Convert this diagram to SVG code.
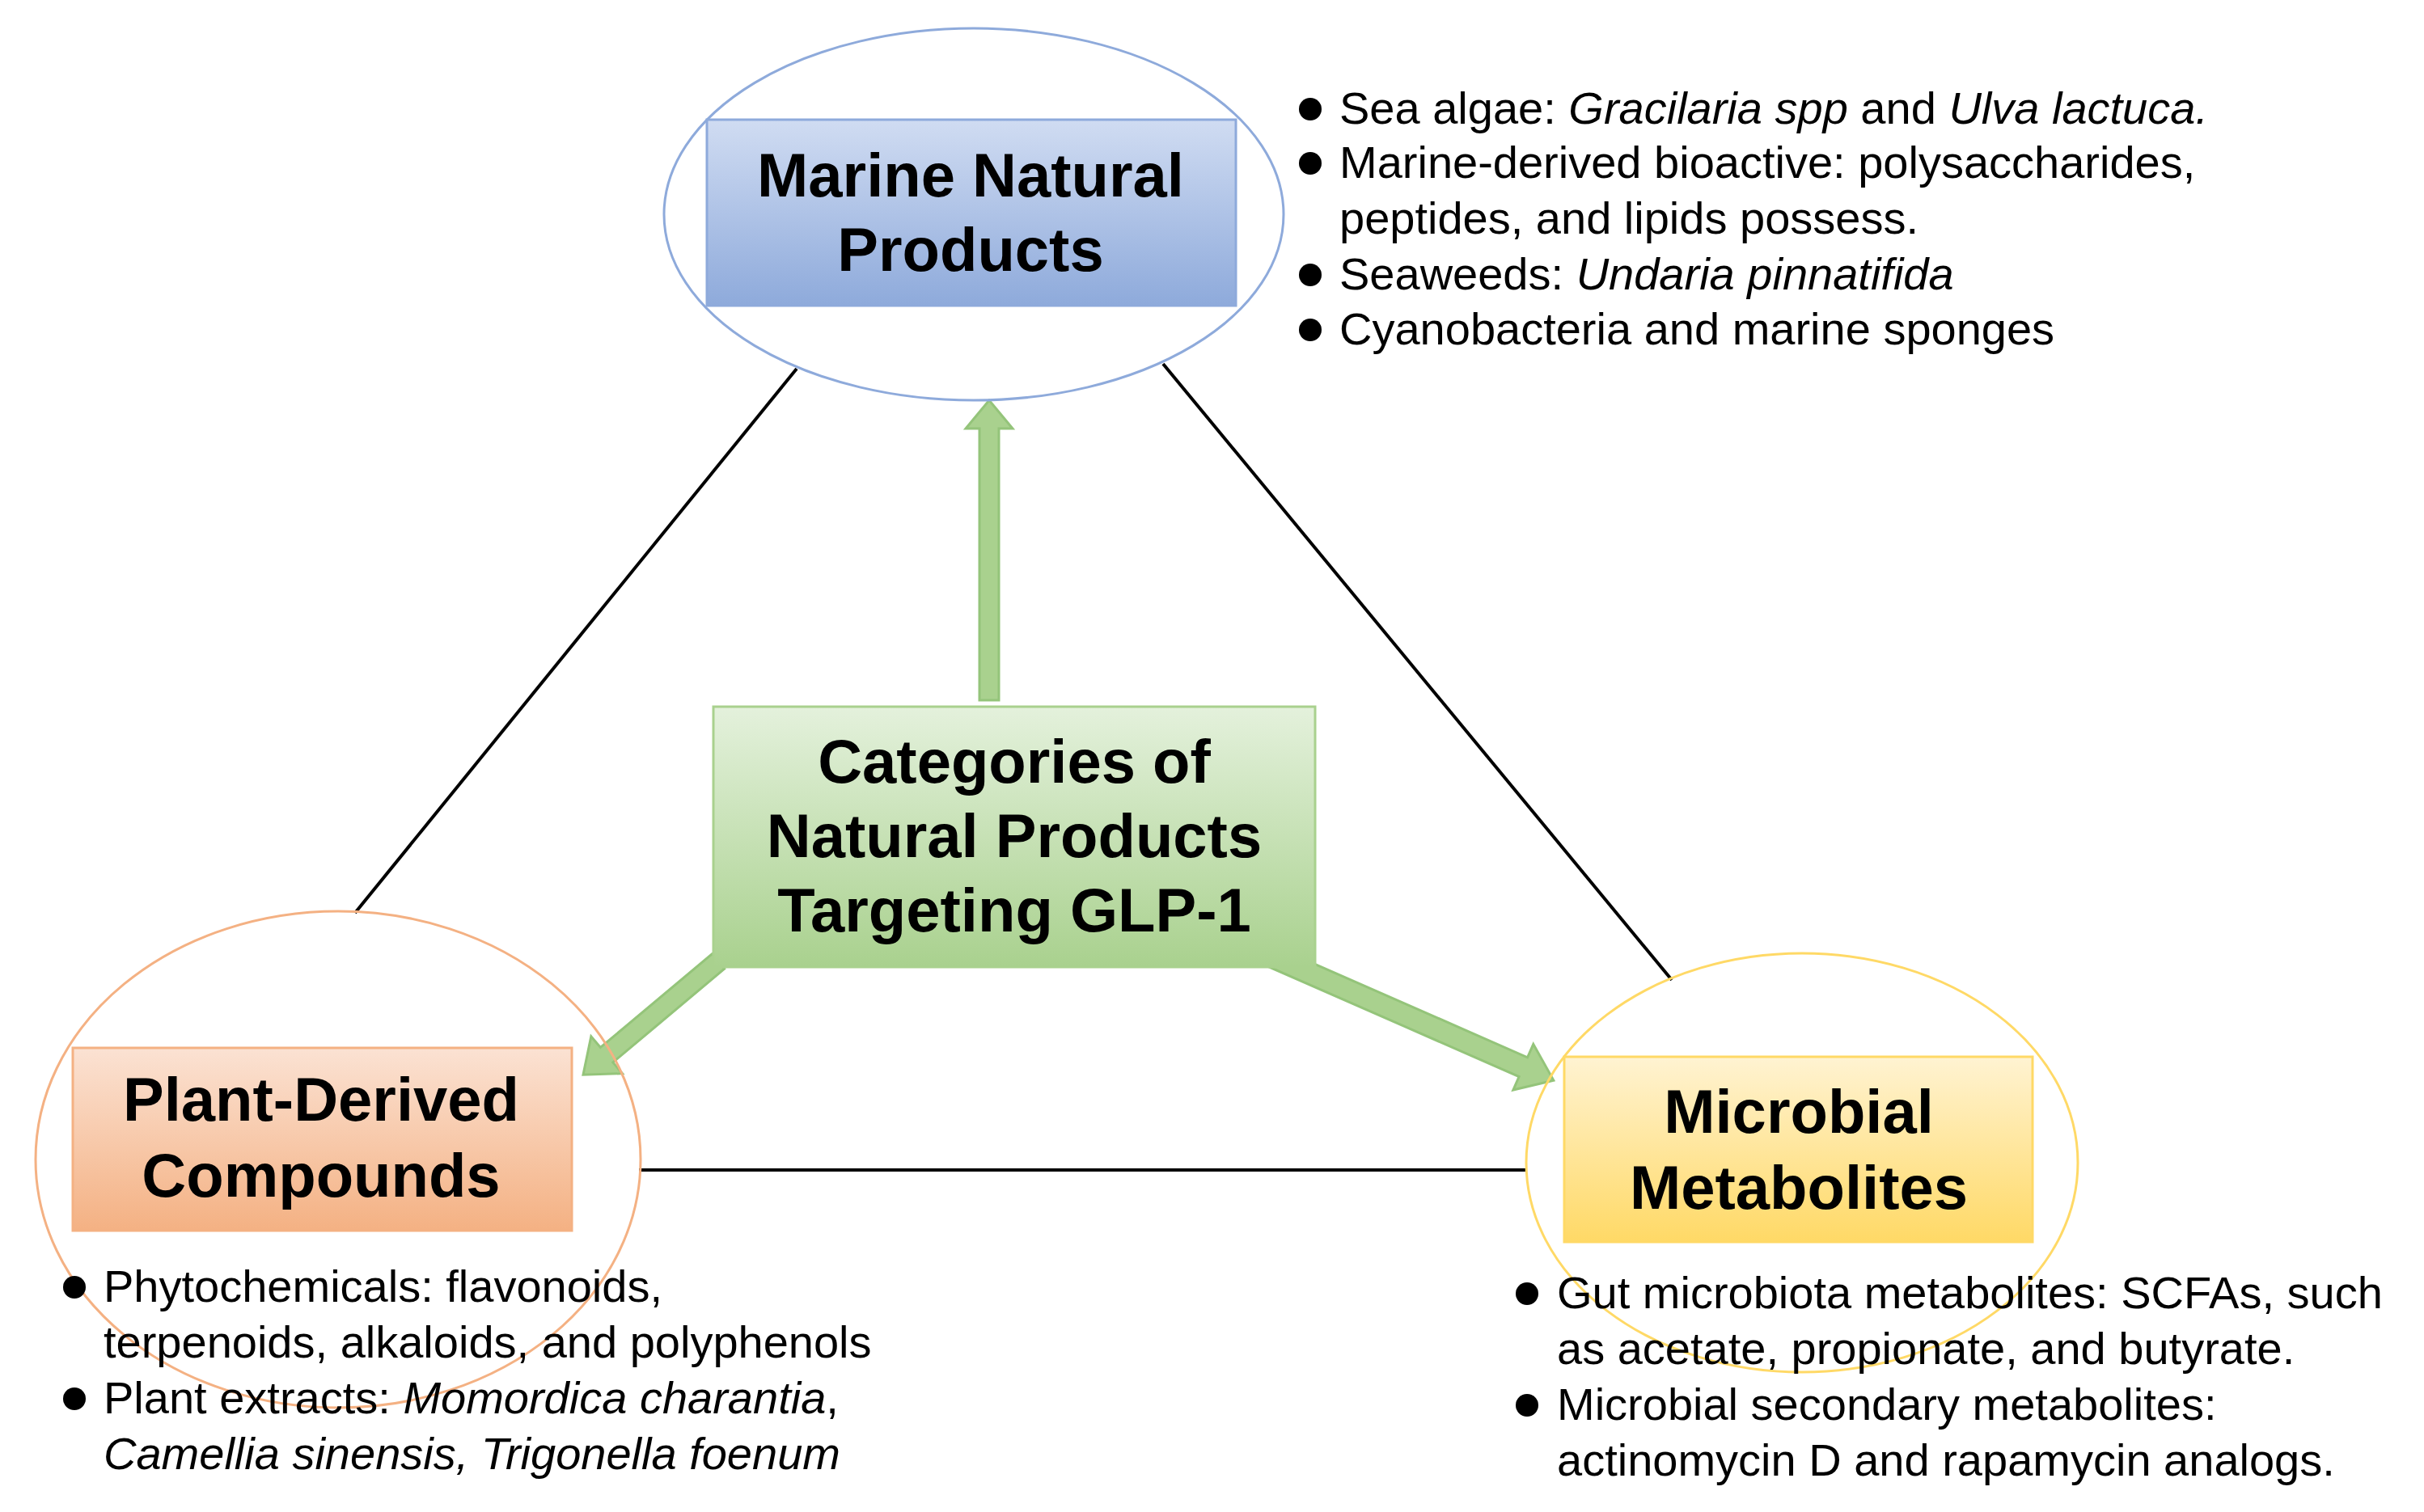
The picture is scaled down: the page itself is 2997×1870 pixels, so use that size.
<svg xmlns="http://www.w3.org/2000/svg" width="2997" height="1870" viewBox="0 0 2997 1870">
<defs>
<linearGradient id="gB" x1="0" y1="0" x2="0" y2="1"><stop offset="0" stop-color="#d0dcf2"/><stop offset="1" stop-color="#8eaadb"/></linearGradient>
<linearGradient id="gO" x1="0" y1="0" x2="0" y2="1"><stop offset="0" stop-color="#fbe2d3"/><stop offset="1" stop-color="#f4b183"/></linearGradient>
<linearGradient id="gY" x1="0" y1="0" x2="0" y2="1"><stop offset="0" stop-color="#fff3d2"/><stop offset="1" stop-color="#ffd966"/></linearGradient>
<linearGradient id="gG" x1="0" y1="0" x2="0" y2="1"><stop offset="0" stop-color="#e4f1dc"/><stop offset="1" stop-color="#a9d18e"/></linearGradient>
</defs>
<style>
.t{font-family:"Liberation Sans",Arial,sans-serif;font-weight:bold;font-size:76px;text-anchor:middle;fill:#000}
.b{font-family:"Liberation Sans",Arial,sans-serif;font-size:56px;fill:#000}
.line{stroke:#000;stroke-width:4;fill:none}
.arr{fill:#a9d18e;stroke:#94c47a;stroke-width:3}
</style>
<rect width="2997" height="1870" fill="#fff"/>
<g id="connectors">
<line class="line" x1="985" y1="456" x2="439" y2="1129"/>
<line class="line" x1="1438" y1="450" x2="2067" y2="1212"/>
<line class="line" x1="790" y1="1447" x2="1888" y2="1447"/>
<polygon class="arr" points="1211,866 1235,866 1235,530 1252,530 1223,495 1194,530 1211,530"/>
<g transform="translate(888,1189) rotate(140.0)"><polygon class="arr" points="0,-12 180,-12 180,-30 218,0 180,30 180,12 0,12"/></g>
<g transform="translate(1572,1183) rotate(23.7)"><polygon class="arr" points="0,-13 340,-13 340,-31 381,0 340,31 340,13 0,13"/></g>
</g>
<g id="marine">
<ellipse cx="1204" cy="265" rx="383" ry="230" fill="none" stroke="#8eaadb" stroke-width="3"/>
<rect x="874" y="148" width="654" height="230" fill="url(#gB)" stroke="#8eaadb" stroke-width="3"/>
<text class="t" x="1200" y="243">Marine Natural</text>
<text class="t" x="1200" y="335">Products</text>
<g class="b">
<circle cx="1620" cy="135" r="14"/><text x="1656" y="153">Sea algae: <tspan font-style="italic">Gracilaria spp</tspan> and <tspan font-style="italic">Ulva lactuca.</tspan></text>
<circle cx="1620" cy="202" r="14"/><text x="1656" y="220">Marine-derived bioactive: polysaccharides,</text>
<text x="1656" y="289">peptides, and lipids possess.</text>
<circle cx="1620" cy="340" r="14"/><text x="1656" y="358">Seaweeds: <tspan font-style="italic">Undaria pinnatifida</tspan></text>
<circle cx="1620" cy="408" r="14"/><text x="1656" y="426">Cyanobacteria and marine sponges</text>
</g>
</g>
<g id="center">
<rect x="882" y="874" width="744" height="322" fill="url(#gG)" stroke="#a9d18e" stroke-width="3"/>
<text class="t" x="1254" y="968">Categories of</text>
<text class="t" x="1254" y="1060">Natural Products</text>
<text class="t" x="1254" y="1152">Targeting GLP-1</text>
</g>
<g id="plant">
<ellipse cx="418" cy="1434" rx="374" ry="307" fill="none" stroke="#f4b183" stroke-width="3"/>
<rect x="90" y="1296" width="617" height="226" fill="url(#gO)" stroke="#f4b183" stroke-width="3"/>
<text class="t" x="397" y="1386">Plant-Derived</text>
<text class="t" x="397" y="1480">Compounds</text>
<g class="b">
<circle cx="92" cy="1592" r="14"/><text x="128" y="1610">Phytochemicals: flavonoids,</text>
<text x="128" y="1679">terpenoids, alkaloids, and polyphenols</text>
<circle cx="92" cy="1730" r="14"/><text x="128" y="1748">Plant extracts: <tspan font-style="italic">Momordica charantia</tspan>,</text>
<text x="128" y="1817" font-style="italic">Camellia sinensis, Trigonella foenum</text>
</g>
</g>
<g id="microbial">
<ellipse cx="2228" cy="1438" rx="341" ry="259" fill="none" stroke="#ffd966" stroke-width="3"/>
<rect x="1934" y="1307" width="579" height="229" fill="url(#gY)" stroke="#ffd966" stroke-width="3"/>
<text class="t" x="2224" y="1401">Microbial</text>
<text class="t" x="2224" y="1495">Metabolites</text>
<g class="b">
<circle cx="1888" cy="1600" r="14"/><text x="1925" y="1618">Gut microbiota metabolites: SCFAs, such</text>
<text x="1925" y="1687">as acetate, propionate, and butyrate.</text>
<circle cx="1888" cy="1738" r="14"/><text x="1925" y="1756">Microbial secondary metabolites:</text>
<text x="1925" y="1825">actinomycin D and rapamycin analogs.</text>
</g>
</g>
</svg>
